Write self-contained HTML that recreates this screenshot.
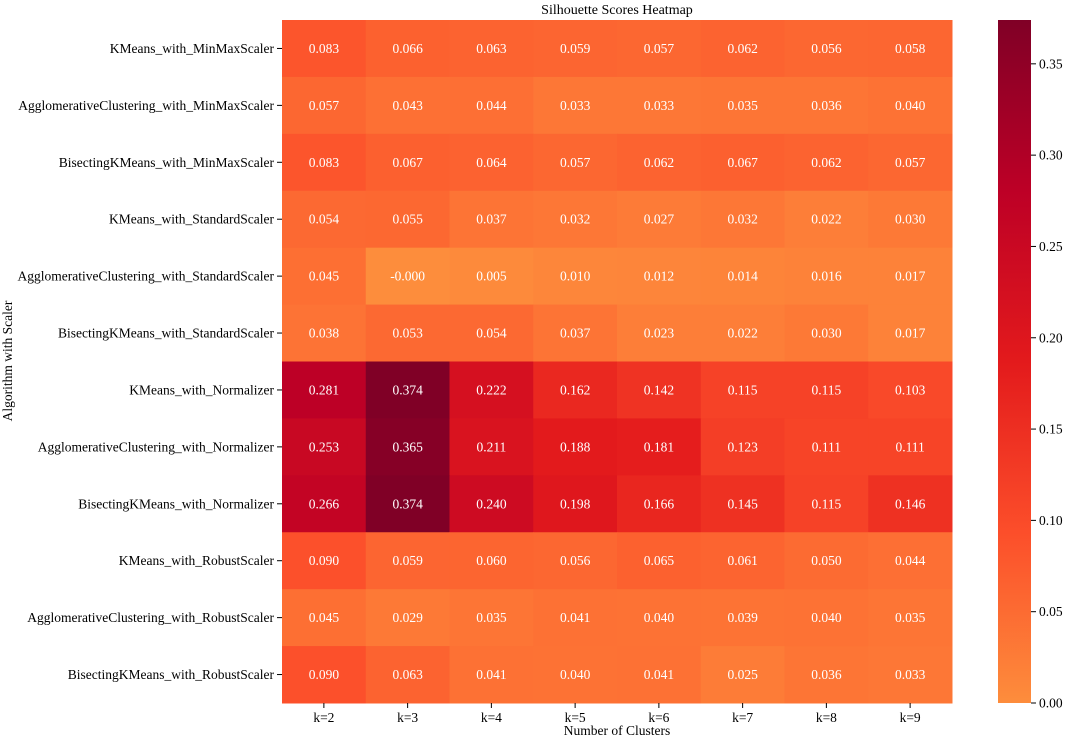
<!DOCTYPE html>
<html><head><meta charset="utf-8"><style>
body{margin:0;background:#fff;}
svg{font-family:"Liberation Serif",serif;}
</style></head><body>
<svg id="chart" width="1065" height="737">
<defs><linearGradient id="cb" x1="0" y1="1" x2="0" y2="0">
<stop offset="0" stop-color="#fd8d3c"/><stop offset="0.25" stop-color="#fc4e2a"/><stop offset="0.5" stop-color="#e31a1c"/><stop offset="0.75" stop-color="#bd0026"/><stop offset="1" stop-color="#800026"/>
</linearGradient></defs>
<text x="617" y="14" text-anchor="middle" font-size="14">Silhouette Scores Heatmap</text>
<g id="cells"></g>
<text x="617" y="735" text-anchor="middle" font-size="13.5">Number of Clusters</text>
<text transform="translate(12,361) rotate(-90)" text-anchor="middle" font-size="13.5">Algorithm with Scaler</text>
<rect x="998" y="20" width="33" height="683" fill="url(#cb)"/>
<g id="cbticks"></g>
</svg>
<script>
const rows=["KMeans_with_MinMaxScaler","AgglomerativeClustering_with_MinMaxScaler","BisectingKMeans_with_MinMaxScaler","KMeans_with_StandardScaler","AgglomerativeClustering_with_StandardScaler","BisectingKMeans_with_StandardScaler","KMeans_with_Normalizer","AgglomerativeClustering_with_Normalizer","BisectingKMeans_with_Normalizer","KMeans_with_RobustScaler","AgglomerativeClustering_with_RobustScaler","BisectingKMeans_with_RobustScaler"];
const cols=["k=2","k=3","k=4","k=5","k=6","k=7","k=8","k=9"];
const values=[
[0.083,0.066,0.063,0.059,0.057,0.062,0.056,0.058],
[0.057,0.043,0.044,0.033,0.033,0.035,0.036,0.040],
[0.083,0.067,0.064,0.057,0.062,0.067,0.062,0.057],
[0.054,0.055,0.037,0.032,0.027,0.032,0.022,0.030],
[0.045,-0.000,0.005,0.010,0.012,0.014,0.016,0.017],
[0.038,0.053,0.054,0.037,0.023,0.022,0.030,0.017],
[0.281,0.374,0.222,0.162,0.142,0.115,0.115,0.103],
[0.253,0.365,0.211,0.188,0.181,0.123,0.111,0.111],
[0.266,0.374,0.240,0.198,0.166,0.145,0.115,0.146],
[0.090,0.059,0.060,0.056,0.065,0.061,0.050,0.044],
[0.045,0.029,0.035,0.041,0.040,0.039,0.040,0.035],
[0.090,0.063,0.041,0.040,0.041,0.025,0.036,0.033]];
const cbTicks=[0,0.05,0.10,0.15,0.20,0.25,0.30,0.35];
const VMIN=0,VMAX=0.374;
const X0=282,X1=952,Y0=20,Y1=703;
const cw=(X1-X0)/cols.length, rh=(Y1-Y0)/rows.length;
const xs=i=>X0+i*cw, ys=j=>Y0+j*rh;
const stops=[[253,141,60],[252,78,42],[227,26,28],[189,0,38],[128,0,38]];
function color(v){let t=Math.max(0,Math.min(1,(v-VMIN)/(VMAX-VMIN)))*4;let i=Math.min(3,Math.floor(t)),f=t-i;const a=stops[i],b=stops[i+1];return `rgb(${a.map((c,k)=>Math.round(c+(b[k]-c)*f)).join(',')})`;}
const NS="http://www.w3.org/2000/svg";
const g=document.getElementById('cells');
function mk(tag,attrs,parent){const e=document.createElementNS(NS,tag);for(const k in attrs)e.setAttribute(k,attrs[k]);parent.appendChild(e);return e;}
values.forEach((row,j)=>row.forEach((v,i)=>{
 const r=mk('rect',{x:xs(i),y:ys(j),width:cw+0.5,height:rh+0.5,fill:color(v)},g);
 
 
 const t=mk('text',{x:xs(i)+cw/2,y:ys(j)+rh/2+4.5,'text-anchor':'middle','font-size':'13.5',fill:'#fff'},g);
 t.textContent=(Object.is(v,-0)?'-0.000':v.toFixed(3));
 
 
}));
rows.forEach((n,j)=>{
 const y=ys(j)+rh/2;
 mk('line',{x1:X0-5,x2:X0,y1:y,y2:y,stroke:'#000'},g);
 const t=mk('text',{x:X0-8,y:y+4.5,'text-anchor':'end','font-size':'13.5'},g);
 t.textContent=n;
 
 
});
cols.forEach((n,i)=>{
 const x=xs(i)+cw/2;
 mk('line',{x1:x,x2:x,y1:Y1,y2:Y1+5,stroke:'#000'},g);
 const t=mk('text',{x:x,y:Y1+19,'text-anchor':'middle','font-size':'13.5'},g);
 t.textContent=n;
 
 
});
const cb=document.getElementById('cbticks');
cbTicks.forEach(v=>{
 const y=Y1-(v-VMIN)/(VMAX-VMIN)*(Y1-Y0);
 mk('line',{x1:1031,x2:1036,y1:y,y2:y,stroke:'#000'},cb);
 const t=mk('text',{x:1039,y:y+4.5,'font-size':'13.5'},cb);
 t.textContent=v.toFixed(2);
 
 
});
</script>
</body></html>
